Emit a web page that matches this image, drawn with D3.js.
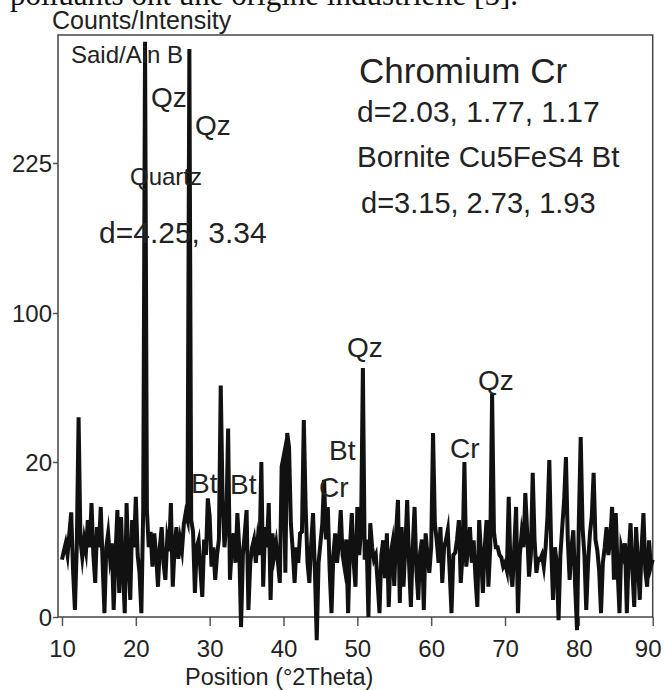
<!DOCTYPE html>
<html>
<head>
<meta charset="utf-8">
<script src="https://cdn.jsdelivr.net/npm/d3@7"></script>
<style>
  body { margin: 0; background: #fff; }
  svg text { font-family: "Liberation Sans", Arial, sans-serif; fill: #222; }
  .caption { font-family: "Liberation Serif", "Times New Roman", serif !important; fill: #111; }
</style>
</head>
<body>
<div id="chart"></div>
<script>
// XRD scan, constant step of 0.25 °2Theta starting at 10
var scanStart = 10;
var scanStep = 0.25;

var counts = [
  7.4, 8.5, 9.5, 8, 10.8, 13.5, 6, 0.9, 9, 44, 9.9, 7.7, 10, 8.5, 12.5, 9, 14.7, 8, 4.4, 11.6,
  9, 14.2, 7, 0.5, 9, 10.8, 7.7, 9.5, 0.9, 8, 13.8, 3.1, 12.9, 6, 0.5, 14.7, 7, 2.2, 12.5, 9,
  15.5, 8, 5.7, 0.5, 13.8, 326, 13.8, 9, 11, 6.5, 10.8, 8, 3.9, 9, 11.6, 7, 4.8, 10, 8.5, 14.7,
  3.9, 9, 11.6, 7.5, 10, 8.6, 12, 13.4, 12.5, 320, 12.5, 11, 3.1, 9, 9.9, 6, 2.6, 10, 8, 15.3,
  13, 6.5, 9, 4.8, 8, 10, 61, 15.1, 9, 12, 38, 4.8, 9, 10.8, 7, 13.4, 9, -1.3, 8, 10.8,
  13.8, 0.9, 7, 9, 10, 7, 9.9, 8, 20, 3.9, 11.6, 9, 14.7, 2.2, 10.8, 8, 9.5, 7, 4.4, 19.4,
  22.7, 5.7, 35.6, 28, 12, 8.6, 4.4, 9, 7, 10.8, 11, 42.5, 14.2, 7, 4.4, 9.5, 13.4, 6, -3, 7,
  9.5, 12, 17.7, 10, 14.2, 6, 0.5, 8, 10.8, 7, 9.5, 13.8, 8, 6.5, 10, 0.5, 9, 13.4, 7, 3.9,
  14.2, 8, 11, 70.5, 7.4, 10, 0, 12.1, 9, 7.4, 8, 4.4, 0.5, 8, 9.9, 5, 10.8, 1.3, 8, 9.5,
  4, 11, 15.1, 1.8, 11.6, 3.9, 9, 15.1, 7, 1.3, 9, 14.2, 6, 2.2, 8.3, 10, 0.9, 10.8, 8, 5.7,
  9, 35.6, 12, 9.9, 7, 11.6, 4.4, 9, 9.9, 11.2, 6, 0.5, 8, 8.3, 10, 12.5, 4.4, 8, 20, 6.5,
  9, 11.6, 7, 9.9, 5, 1.3, 12.5, 8, 3.1, 9, 12.5, 3.9, 9, 56.5, 11, 9, 9, 8, 7.7, 6.5,
  7, 6, 15.5, 6, 3.9, 9, 14.2, 0.5, 8, 10.8, 9, 16, 11, 5.2, 8, 18.6, 10, 5.7, 7.5, 7.4,
  8, 6.5, 9, 13, 21.1, 9, 2.2, 9, 7, -0.4, 8, 11.6, 15, 22.7, 10, 4.8, 9, 11.2, 3.9, -1.7,
  12.5, 33.4, 11.6, 8, 0.9, 7, 10.8, 13, 18.6, 10, 8.6, 6, 0.5, 7, 9, 11.6, 8, 10, 14.2, 4.8,
  13.4, 6, 0.5, 9, 8, 9.5, 0.5, 8, 12.1, 6, 1.3, 11.6, 7, 2.2, 9, 13.4, 6, 3.9, 9.9, 6.5, 7.4
];

// Axis ticks
var xTicks = [10, 20, 30, 40, 50, 60, 70, 80, 90];
var yTicks = [0, 20, 100, 225];

// Define svg dimensions
var svgWidth = 664;
var svgHeight = 690;

var chartMargin = { top: 35, right: 11.3, bottom: 73, left: 58 };
var chartWidth = svgWidth - chartMargin.left - chartMargin.right;
var chartHeight = svgHeight - chartMargin.top - chartMargin.bottom;

var svg = d3.select("#chart")
  .append("svg")
  .attr("width", svgWidth)
  .attr("height", svgHeight);

var chartGroup = svg.append("g")
  .attr("transform", `translate(${chartMargin.left}, ${chartMargin.top})`);

// x scale in °2Theta
var xScale = d3.scaleLinear()
  .domain([9.46, 90])
  .range([0, chartWidth]);

// Counts axis of the original is compressed and uneven: piecewise linear scale
var yScale = d3.scaleLinear()
  .domain(yTicks)
  .range([chartHeight, chartHeight - 155, chartHeight - 304, chartHeight - 454]);

var scan = counts.map((c, i) => ({ angle: scanStart + i * scanStep, count: c }));

// Caption line of the page above the figure (cut off)
svg.append("text")
  .classed("caption", true)
  .attr("x", 10)
  .attr("y", 5)
  .attr("font-size", "31px")
  .text("polluants ont une origine industrielle [5].");

// y axis title
svg.append("text")
  .attr("x", 52)
  .attr("y", 29)
  .attr("font-size", "25px")
  .text("Counts/Intensity");

// Axes
var bottomAxis = d3.axisBottom(xScale)
  .tickValues(xTicks)
  .tickSize(9)
  .tickPadding(14);

var leftAxis = d3.axisLeft(yScale)
  .tickValues(yTicks)
  .tickSize(5)
  .tickPadding(1);

var xAxis = chartGroup.append("g")
  .attr("transform", `translate(0, ${chartHeight})`)
  .call(bottomAxis);

var yAxis = chartGroup.append("g")
  .call(leftAxis);

[xAxis, yAxis].forEach(ax => {
  ax.select(".domain").remove();
  ax.selectAll(".tick line").attr("stroke", "#555").attr("stroke-width", 1.5);
  ax.selectAll(".tick text")
    .attr("font-size", "24px")
    .attr("font-family", "Liberation Sans, Arial, sans-serif")
    .attr("fill", "#222");
});
yAxis.selectAll(".tick text").attr("dy", "0.36em");
// last label sits a little left of its tick, as in the original
xAxis.selectAll(".tick text").filter(d => d === 90).attr("dx", -5);

// Plot frame
chartGroup.append("rect")
  .attr("x", 0)
  .attr("y", 0)
  .attr("width", chartWidth)
  .attr("height", chartHeight)
  .attr("fill", "none")
  .attr("stroke", "#444")
  .attr("stroke-width", 1.5);

// x axis title
svg.append("text")
  .attr("x", 185)
  .attr("y", 685)
  .attr("font-size", "23.5px")
  .text("Position (°2Theta)");

// Annotations
function note(text, x, y, size) {
  svg.append("text")
    .attr("x", x)
    .attr("y", y)
    .attr("font-size", size + "px")
    .text(text);
}

note("Said/Ain B", 71, 63, 24);
note("Qz", 151, 107, 28);
note("Qz", 195, 135, 28);
note("Quartz", 130, 185, 24);
note("d=4.25, 3.34", 99, 243, 30);
note("Chromium Cr", 359, 83, 35);
note("d=2.03, 1.77, 1.17", 357, 122, 30);
note("Bornite Cu5FeS4 Bt", 357, 167, 29.5);
note("d=3.15, 2.73, 1.93", 361, 213, 29);
note("Qz", 347, 357, 28);
note("Qz", 478, 390, 28);
note("Cr", 450, 458, 28);
note("Bt", 329, 460, 28);
note("Cr", 319, 497, 28);
note("Bt", 191, 493, 28);
note("Bt", 230, 494, 28);

// Diffraction pattern
var line = d3.line()
  .x(d => xScale(d.angle))
  .y(d => yScale(d.count));

chartGroup.append("path")
  .datum(scan)
  .attr("d", line)
  .attr("fill", "none")
  .attr("stroke", "#111")
  .attr("stroke-width", 4)
  .attr("stroke-linejoin", "miter")
  .attr("stroke-miterlimit", 10);
</script>
</body>
</html>
